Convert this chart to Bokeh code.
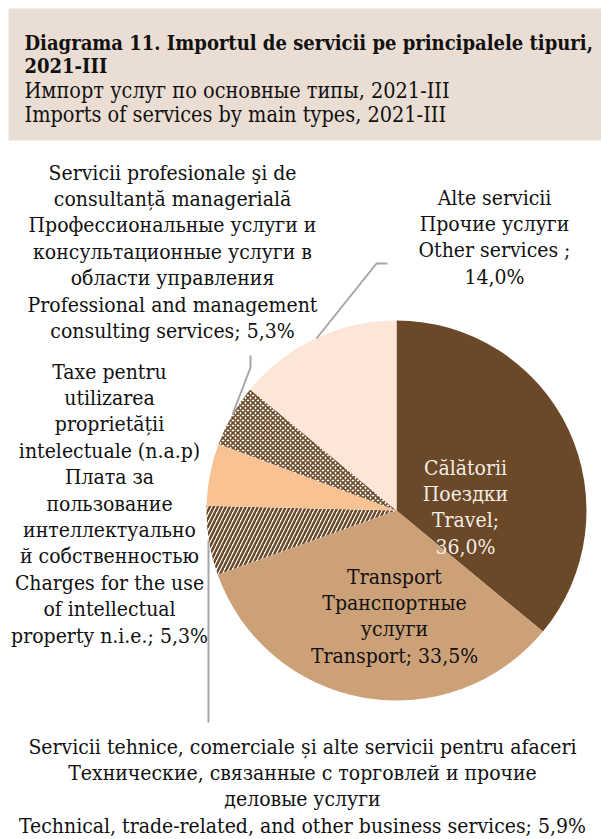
import math
from bokeh.plotting import figure
from bokeh.models import Range1d
from bokeh.core.properties import value
from bokeh.embed import file_html
from bokeh.resources import INLINE

# ---- data ----
title_lines = ["Diagrama 11. Importul de servicii pe principalele tipuri,", "2021-III"]
subtitle_lines = ["Импорт услуг по основные типы, 2021-III", "Imports of services by main types, 2021-III"]

categories = ["Travel", "Transport", "Technical", "Charges", "Professional", "Other"]
values = [36.0, 33.5, 5.9, 5.3, 5.3, 14.0]
label_lines = [
    ["Călătorii", "Поездки", "Travel;"],
    ["Transport", "Транспортные", "услуги", "Transport;"],
    ["Servicii tehnice, comerciale și alte servicii pentru afaceri",
     "Технические, связанные с торговлей и прочие", "деловые услуги",
     "Technical, trade-related, and other business services;"],
    ["Taxe pentru", "utilizarea", "proprietății", "intelectuale (n.a.p)", "Плата за",
     "пользование", "интеллектуально", "й собственностью", "Charges for the use",
     "of intellectual", "property n.i.e.;"],
    ["Servicii profesionale şi de", "consultanță managerială", "Профессиональные услуги и",
     "консультационные услуги в", "области управления", "Professional and management",
     "consulting services;"],
    ["Alte servicii", "Прочие услуги", "Other services ;"],
]
# whether the percentage sits on its own line
pct_own_line = [True, False, False, False, False, True]

colors = ["#6B4827", "#CCA178", "#FFFFFF", "#F8C293", "#FFFFFF", "#FCE6D8"]
hatch = [None, None, "/", None, "x", None]
text_colors = ["#F2EDE6", "#111111", "#111111", "#111111", "#111111", "#111111"]

# ---- layout (image pixel coordinates) ----
W, H = 601, 839
FONT = "DejaVu Serif Condensed"


def X(x):
    return x


def Y(y):
    return H - y


p = figure(width=W, height=H, output_backend="svg", toolbar_location=None,
           x_range=Range1d(0, W), y_range=Range1d(0, H), min_border=0)
p.axis.visible = False
p.grid.visible = False
p.outline_line_color = None
p.background_fill_color = "white"

# header box
p.quad(left=[X(8)], right=[X(610)], top=[Y(8)], bottom=[Y(140)],
       fill_color="#EADDD3", line_color=None)
hy = [42, 65, 90, 114]
for i, t in enumerate(title_lines + subtitle_lines):
    p.text(x=[X(24)], y=[Y(hy[i])], text=[t], text_font=value(FONT),
           text_font_size="20px" if i < 2 else "21.5px",
           text_font_style="bold" if i < 2 else "normal",
           text_color="#111111", text_baseline="alphabetic", text_align="left")

# pie
cx, cy, r = 396, 510, 190
total = sum(values)
cum = 0.0
for i, v in enumerate(values):
    a0 = math.pi / 2 - 2 * math.pi * cum / total
    cum += v
    a1 = math.pi / 2 - 2 * math.pi * cum / total
    kw = dict(fill_color=colors[i], line_color=None)
    if hatch[i]:
        kw.update(hatch_pattern=hatch[i], hatch_color="#6B4827",
                  hatch_scale=8 if hatch[i] == "/" else 5,
                  hatch_weight=2.5 if hatch[i] == "/" else 1.6)
    p.wedge(x=[X(cx)], y=[Y(cy)], radius=r, start_angle=[a0], end_angle=[a1],
            direction="clock", **kw)

# leader lines
lead = [
    ([316, 376, 387], [338, 263, 263]),
    ([232, 250, 250], [414, 367, 355]),
    ([208, 208], [540, 722]),
]
for xs, ys in lead:
    p.line(x=[X(v) for v in xs], y=[Y(v) for v in ys], line_color="#A6A6A6", line_width=2)

# labels: center x, first line center y
label_pos = [(465, 467), (394, 576), (302, 746), (109, 371), (172, 172), (494, 197)]
LH = 26.4
for i, lines in enumerate(label_lines):
    pct = f"{values[i]:.1f}".replace(".", ",") + "%"
    ls = list(lines)
    if pct_own_line[i]:
        ls.append(pct)
    else:
        ls[-1] = ls[-1] + " " + pct
    lx, ly = label_pos[i]
    for j, t in enumerate(ls):
        p.text(x=[X(lx)], y=[Y(ly + j * LH)], text=[t], text_font=value(FONT),
               text_font_size="21px", text_color=text_colors[i],
               text_baseline="middle", text_align="center")

open("out.html", "w").write(file_html(p, INLINE))
